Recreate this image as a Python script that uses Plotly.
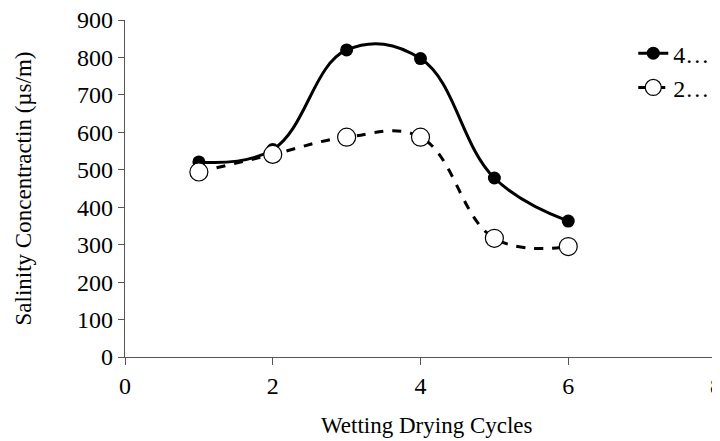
import plotly.graph_objects as go

cycles = [1, 2, 3, 4, 5, 6]
series_4 = [521, 554, 820, 797, 478, 363]
series_2 = [494, 541, 587, 587, 317, 295]
name_4 = "4…"
name_2 = "2…"
x_title = "Wetting Drying Cycles"
y_title = "Salinity Concentractin (µs/m)"

FONT = "Liberation Serif, Times New Roman, serif"

fig = go.Figure()
fig.add_trace(go.Scatter(
    x=cycles, y=series_4, name=name_4, mode="lines+markers",
    line=dict(color="black", width=3, shape="spline", smoothing=1.15),
    marker=dict(symbol="circle", size=13, color="black"),
))
fig.add_trace(go.Scatter(
    x=cycles, y=series_2, name=name_2, mode="lines+markers",
    line=dict(color="black", width=3, dash="dash", shape="spline", smoothing=1.15),
    marker=dict(symbol="circle", size=18, color="white", line=dict(color="black", width=1.2)),
))

fig.update_layout(
    width=720, height=441,
    margin=dict(l=117, r=12, t=12, b=92),
    paper_bgcolor="white", plot_bgcolor="white",
    font=dict(family=FONT, size=24, color="black"),
    legend=dict(x=0.86, y=0.967, xanchor="left", yanchor="top",
                font=dict(family=FONT, size=24), tracegroupgap=0,
                bgcolor="rgba(0,0,0,0)"),
    xaxis=dict(range=[0, 8], tickvals=[0, 2, 4, 6, 8], showgrid=False, zeroline=False,
               showline=True, linecolor="#555", linewidth=1.2,
               ticks="outside", ticklen=7, tickcolor="#555",
               tickfont=dict(family=FONT, size=24), automargin=False,
               ticklabeloverflow="allow"),
    yaxis=dict(range=[0, 900], dtick=100, showgrid=False, zeroline=False,
               showline=True, linecolor="#555", linewidth=1.2,
               ticks="outside", ticklen=6, tickcolor="#555",
               tickfont=dict(family=FONT, size=24), automargin=False,
               ticklabeloverflow="allow"),
    annotations=[
        dict(text=x_title, xref="paper", yref="paper", x=0.511, y=-0.2018,
             xanchor="center", yanchor="middle", showarrow=False,
             font=dict(family=FONT, size=23)),
        dict(text=y_title, xref="paper", yref="paper", x=-0.171, y=0.5,
             xanchor="center", yanchor="middle", textangle=-90, showarrow=False,
             font=dict(family=FONT, size=23)),
    ],
)

fig.write_html("out.html")
